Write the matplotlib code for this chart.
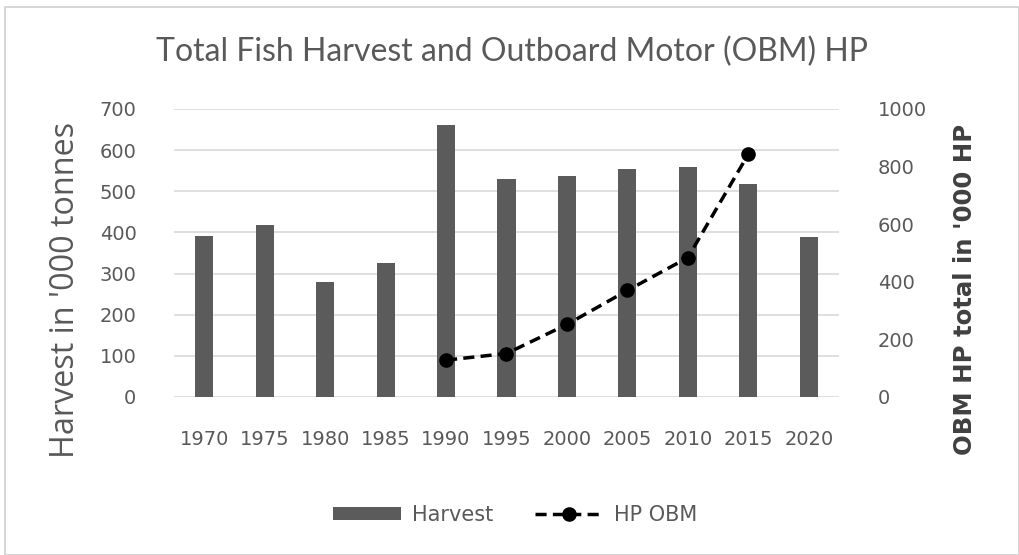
import matplotlib
matplotlib.use("Agg")
import matplotlib.pyplot as plt
from matplotlib.patches import Rectangle
from matplotlib.lines import Line2D
from matplotlib.patches import Patch

years = ["1970", "1975", "1980", "1985", "1990", "1995", "2000", "2005", "2010", "2015", "2020"]
harvest = [392, 418, 279, 326, 662, 531, 536, 553, 558, 518, 388]
hp_years = ["1990", "1995", "2000", "2005", "2010", "2015"]
hp_obm = [128, 151, 252, 370, 484, 843]

left_ticks = [0, 100, 200, 300, 400, 500, 600, 700]
right_ticks = [0, 200, 400, 600, 800, 1000]

GRAY = "#595959"
BAR = "#5b5b5b"

fig = plt.figure(figsize=(10.2, 5.55), dpi=100)
fig.patches.append(Rectangle((5/1020, 0), 1014/1020, 1 - 7/555, transform=fig.transFigure,
                             fill=False, edgecolor="#d0d0d0", linewidth=1.2))

ax = fig.add_axes([174/1020, 1 - 397/555, (839-174)/1020, (397-109)/555])
x = list(range(len(years)))
ax.bar(x, harvest, width=0.30, color=BAR, zorder=2)
ax.set_xlim(-0.5, len(years) - 0.5)
ax.set_ylim(0, 700)
ax.set_yticks(left_ticks)
ax.set_xticks(x)
ax.set_xticklabels(years)
ax.grid(axis="y", color="#d9d9d9", linewidth=1.2, zorder=0)
for s in ax.spines.values():
    s.set_visible(False)
ax.tick_params(axis="both", length=0, colors=GRAY, labelsize=14)
ax.tick_params(axis="y", pad=27)
ax.tick_params(axis="x", pad=24)
ax.set_axisbelow(True)

ax2 = ax.twinx()
hx = [years.index(y) for y in hp_years]
ax2.plot(hx, hp_obm, color="black", linestyle=(0, (3.2, 1.8)), linewidth=2.5,
         marker="o", markersize=9.5, zorder=3)
ax2.set_ylim(0, 1000)
ax2.set_yticks(right_ticks)
for s in ax2.spines.values():
    s.set_visible(False)
ax2.tick_params(axis="y", length=0, colors=GRAY, labelsize=14, pad=28)

fig.text(512/1020, 1 - 52/555, "Total Fish Harvest and Outboard Motor (OBM) HP",
         ha="center", va="center", fontsize=23, color=GRAY, family="Lato")
fig.text(66/1020, 1 - 290/555, "Harvest in '000 tonnes", rotation=90, ha="center", va="center",
         fontsize=23.3, color=GRAY, family="Open Sans")
fig.text(965/1020, 1 - 289/555, "OBM HP total in '000 HP", rotation=90, ha="center", va="center",
         fontsize=17.6, color="#404040", family="DejaVu Sans", fontweight="bold")

handles = [Patch(facecolor=BAR, edgecolor="none"),
           Line2D([0], [0], color="black", linestyle=(0, (3.2, 1.8)), linewidth=2.5,
                  marker="o", markersize=9.5)]
fig.legend(handles, ["Harvest", "HP OBM"], loc="center", bbox_to_anchor=(515/1020, 1 - 515/555),
           ncol=2, frameon=False, fontsize=15, labelcolor=GRAY, handlelength=3.3,
           handleheight=0.6, columnspacing=2.0, handletextpad=0.5)

fig.savefig("out.png", dpi=100)
